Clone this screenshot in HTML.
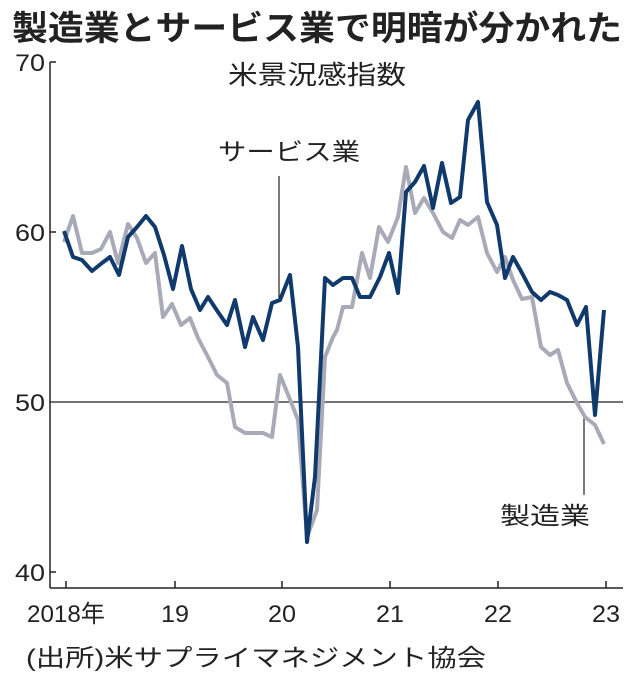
<!DOCTYPE html>
<html><head><meta charset="utf-8"><style>
html,body{margin:0;padding:0;background:#fff;}
svg{display:block;}
text{font-family:"Liberation Sans","Noto Sans CJK JP",sans-serif;fill:#222;}
</style></head><body>
<svg width="638" height="681" viewBox="0 0 638 681" xmlns="http://www.w3.org/2000/svg">
<text x="12" y="40" font-size="34" font-weight="bold" textLength="610" lengthAdjust="spacingAndGlyphs" fill="#1a1a1a">製造業とサービス業で明暗が分かれた</text>
<text x="228" y="84" font-size="26" textLength="178" lengthAdjust="spacingAndGlyphs">米景況感指数</text>
<line x1="50" y1="62" x2="50" y2="588" stroke="#222" stroke-width="1.5"/>
<line x1="50" y1="588" x2="623" y2="588" stroke="#222" stroke-width="1.5"/>
<line x1="50" y1="402" x2="623" y2="402" stroke="#222" stroke-width="1.2"/>
<g stroke="#222" stroke-width="1.5">
<line x1="50" y1="62" x2="56" y2="62"/><line x1="50" y1="232" x2="56" y2="232"/><line x1="50" y1="572" x2="56" y2="572"/>
<line x1="66" y1="588" x2="66" y2="581"/><line x1="175" y1="588" x2="175" y2="581"/><line x1="282" y1="588" x2="282" y2="581"/><line x1="390" y1="588" x2="390" y2="581"/><line x1="498" y1="588" x2="498" y2="581"/><line x1="606" y1="588" x2="606" y2="581"/>
</g>
<g font-size="24" text-anchor="end">
<text x="45" y="71" textLength="30" lengthAdjust="spacingAndGlyphs">70</text>
<text x="45" y="241" textLength="30" lengthAdjust="spacingAndGlyphs">60</text>
<text x="45" y="411" textLength="30" lengthAdjust="spacingAndGlyphs">50</text>
<text x="45" y="581" textLength="30" lengthAdjust="spacingAndGlyphs">40</text>
</g>
<g font-size="24" text-anchor="middle">
<text x="66" y="622" textLength="78" lengthAdjust="spacingAndGlyphs">2018年</text>
<text x="175" y="622" textLength="28" lengthAdjust="spacingAndGlyphs">19</text>
<text x="282" y="622" textLength="28" lengthAdjust="spacingAndGlyphs">20</text>
<text x="390" y="622" textLength="28" lengthAdjust="spacingAndGlyphs">21</text>
<text x="498" y="622" textLength="28" lengthAdjust="spacingAndGlyphs">22</text>
<text x="606" y="622" textLength="28" lengthAdjust="spacingAndGlyphs">23</text>
</g>
<text x="26" y="666" font-size="24" textLength="460" lengthAdjust="spacingAndGlyphs">(出所)米サプライマネジメント協会</text>
<line x1="279" y1="176" x2="279" y2="300" stroke="#222" stroke-width="1.2"/>
<text x="218" y="160" font-size="24" textLength="142" lengthAdjust="spacingAndGlyphs">サービス業</text>
<line x1="584" y1="416" x2="584" y2="495" stroke="#222" stroke-width="1.2"/>
<text x="500" y="524" font-size="24" textLength="90" lengthAdjust="spacingAndGlyphs">製造業</text>
<polyline fill="none" stroke="#a9aab8" stroke-width="4" stroke-linejoin="round" points="64,242 73,216 82,253 92,253 101,249 110,232 118,263 128,224 137,238 146,263 155,253 163,317 172,304 181,325 190,318 198,338 208,357 217,375 227,383 235,427 245,433 253,433 263,433 272,437 280,375 289,397 298,420 307,537 317,510 325,357 333,337 337,330 343,307 352,307 362,253 370,278 379,227 388,242 398,217 406,167 415,213 424,198 433,213 443,232 452,238 460,220 468,225 478,217 487,253 497,272 505,257 513,280 522,299 532,297 541,347 550,355 558,350 567,383 577,403 585,417 595,425 604,444"/>
<polyline fill="none" stroke="#0f3a6b" stroke-width="4" stroke-linejoin="round" points="64,231 73,257 82,260 92,271 102,263 110,257 119,275 128,237 137,227 146,216 155,227 164,255 173,289 182,246 191,289 200,310 208,297 218,312 227,325 235,300 245,347 253,317 263,340 272,303 280,300 290,275 298,347 307,542 315,477 325,278 333,285 343,278 352,278 360,297 370,297 380,277 389,253 398,293 406,192 415,182 424,166 433,208 442,163 451,203 460,197 468,120 478,102 487,202 497,225 505,278 513,257 522,273 532,292 541,300 550,292 558,295 567,300 577,325 586,307 595,415 604,310"/>
</svg>
</body></html>
